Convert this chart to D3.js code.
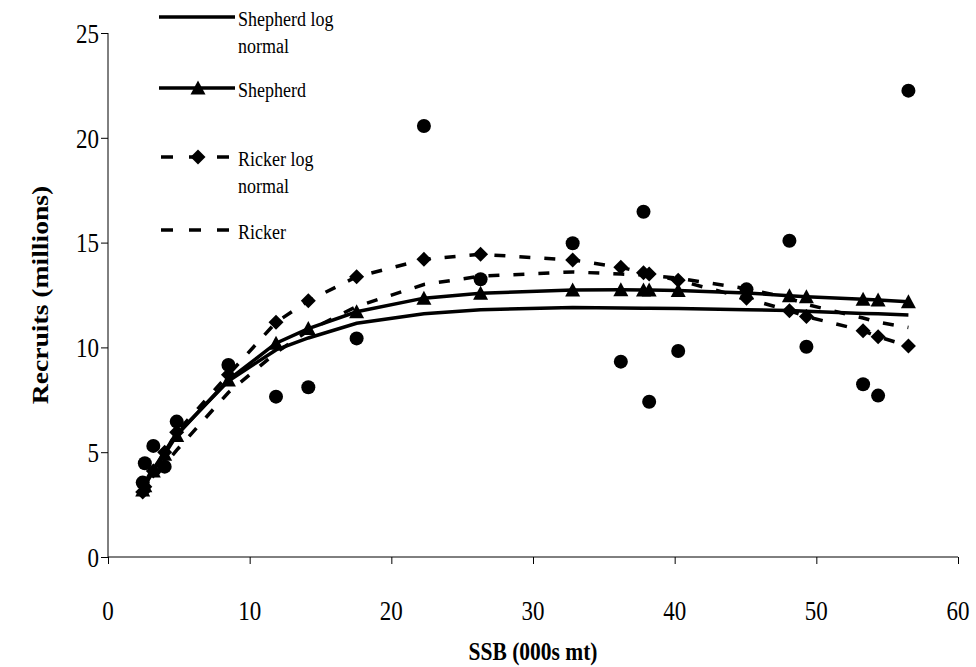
<!DOCTYPE html>
<html>
<head>
<meta charset="utf-8">
<script src="https://cdnjs.cloudflare.com/ajax/libs/d3/7.8.5/d3.min.js"></script>
<style>
  body { margin: 0; background: #fff; }
  svg { display: block; }
</style>
</head>
<body>
<script>
// spawning stock biomass (000s mt) for each year, sorted
var ssb = [2.45, 2.6, 3.2, 4.0, 4.85, 8.5, 11.86, 14.14, 17.55, 22.3, 26.3, 32.8, 36.2, 37.8, 38.2, 40.25, 45.07, 48.1, 49.3, 53.3, 54.36, 56.5]
// observed recruits (millions)
var recruits = [3.55, 4.47, 5.3, 4.31, 6.46, 9.16, 7.65, 8.1, 10.43, 20.56, 13.25, 14.97, 9.32, 16.47, 7.41, 9.83, 12.77, 15.09, 10.03, 8.24, 7.7, 22.25]
// fitted curves at the same ssb values
var shepherdLogNormal = [3.3, 3.5, 4.2, 5.0, 5.85, 8.4, 9.88, 10.45, 11.15, 11.6, 11.8, 11.9, 11.88, 11.87, 11.87, 11.86, 11.8, 11.76, 11.72, 11.62, 11.6, 11.55]
var shepherd = [3.2, 3.4, 4.1, 4.9, 5.8, 8.45, 10.2, 10.9, 11.7, 12.35, 12.58, 12.74, 12.75, 12.74, 12.74, 12.72, 12.6, 12.47, 12.42, 12.3, 12.26, 12.18]
var rickerLogNormal = [3.1, 3.35, 4.1, 5.0, 5.95, 8.7, 11.2, 12.22, 13.37, 14.2, 14.44, 14.17, 13.82, 13.56, 13.5, 13.2, 12.34, 11.75, 11.47, 10.8, 10.51, 10.07]
var ricker = [2.95, 3.1, 3.7, 4.4, 5.1, 7.85, 9.75, 10.8, 11.95, 13.0, 13.4, 13.6, 13.5, 13.45, 13.43, 13.3, 12.8, 12.35, 12.05, 11.4, 11.2, 10.95]

var xTicks = [0, 10, 20, 30, 40, 50, 60]
var yTicks = [0, 5, 10, 15, 20, 25]
var legendLabels = [['Shepherd log', 'normal'], ['Shepherd'], ['Ricker log', 'normal'], ['Ricker']]

var W = 976, H = 667
var K = 1.2   // the picture is stretched vertically, text too
var FONT = '"Liberation Serif", "Times New Roman", serif'

var svg = d3.select(document.body).append('svg')
  .attr('width', W).attr('height', H)

var x = d3.scaleLinear().domain([0, 60]).range([108, 958])
var y = d3.scaleLinear().domain([0, 25]).range([557, 33])

function label(g, px, py, str, size, anchor, bold, rotate) {
  var t = g.append('text')
    .attr('font-family', FONT)
    .attr('font-size', size * K)
    .attr('text-anchor', anchor)
    .attr('dominant-baseline', 'central')
    .attr('fill', '#000')
    .text(str)
  if (bold) t.attr('font-weight', 'bold')
  if (rotate) {
    t.attr('transform', 'translate(' + px + ',' + py + ') rotate(-90) scale(1,' + (1 / K) + ')')
  } else {
    t.attr('transform', 'translate(' + px + ',' + py + ') scale(' + (1 / K) + ',1)')
  }
  return t
}

// axes
var xAxis = d3.axisBottom(x).tickValues(xTicks).tickSize(7).tickFormat('')
var yAxis = d3.axisLeft(y).tickValues(yTicks).tickSize(7).tickFormat('')
svg.append('g').attr('transform', 'translate(0,557)').call(xAxis)
  .call(function(g) { g.select('.domain').attr('d', 'M108,0H958') })
svg.append('g').attr('transform', 'translate(108,0)').call(yAxis)
  .call(function(g) { g.select('.domain').attr('d', 'M0,33V557') })
svg.selectAll('.domain, .tick line').attr('stroke', '#000').attr('stroke-width', 1)

var labels = svg.append('g')
xTicks.forEach(function(v) { label(labels, x(v), 610, v, 23, 'middle') })
yTicks.forEach(function(v) { label(labels, 99, y(v), v, 23, 'end') })
label(labels, 533, 651, 'SSB (000s mt)', 21.5, 'middle', true)
label(labels, 40, 295, 'Recruits (millions)', 23, 'middle', true, true)

// markers
function triangle(s) { return 'M0,' + (-s / 2) + 'L' + (s / 2) + ',' + (s / 2 - 1) + 'L' + (-s / 2) + ',' + (s / 2 - 1) + 'Z' }
function diamond(s) { return 'M0,' + (-s / 2) + 'L' + (s / 2) + ',0L0,' + (s / 2) + 'L' + (-s / 2) + ',0Z' }

var series = [
  { vals: shepherdLogNormal, dash: null, mark: null },
  { vals: shepherd, dash: null, mark: 'tri' },
  { vals: rickerLogNormal, dash: '11,14', mark: 'dia' },
  { vals: ricker, dash: '11,14', mark: null }
]

var line = d3.line()
  .x(function(d) { return x(d[0]) })
  .y(function(d) { return y(d[1]) })

var plot = svg.append('g')

series.forEach(function(s) {
  var pts = d3.zip(ssb, s.vals)
  plot.append('path')
    .attr('d', line(pts))
    .attr('fill', 'none')
    .attr('stroke', '#000')
    .attr('stroke-width', 3.5)
    .attr('stroke-dasharray', s.dash)
  if (s.mark) {
    plot.selectAll(null).data(pts).enter().append('path')
      .attr('transform', function(d) { return 'translate(' + x(d[0]) + ',' + y(d[1]) + ')' })
      .attr('d', s.mark == 'tri' ? triangle(15) : diamond(15))
      .attr('fill', '#000')
  }
})

// observed
plot.selectAll('circle').data(d3.zip(ssb, recruits)).enter().append('circle')
  .attr('cx', function(d) { return x(d[0]) })
  .attr('cy', function(d) { return y(d[1]) })
  .attr('r', 7)
  .attr('fill', '#000')

// legend
var legend = svg.append('g')
var rows = [17, 88, 157, 230]
legendLabels.forEach(function(lines, i) {
  var ly = rows[i]
  var s = series[i]
  legend.append('line')
    .attr('x1', 159).attr('x2', 235).attr('y1', ly).attr('y2', ly)
    .attr('stroke', '#000').attr('stroke-width', 3.5)
    .attr('stroke-dasharray', s.dash ? '12,16' : null)
    .attr('stroke-dashoffset', s.dash ? -2 : null)
  if (s.mark) {
    legend.append('path')
      .attr('transform', 'translate(198,' + ly + ')')
      .attr('d', s.mark == 'tri' ? triangle(15) : diamond(15))
      .attr('fill', '#000')
  }
  lines.forEach(function(t, j) {
    label(legend, 238, ly + 1 + j * 27, t, 18, 'start')
  })
})
</script>
</body>
</html>
